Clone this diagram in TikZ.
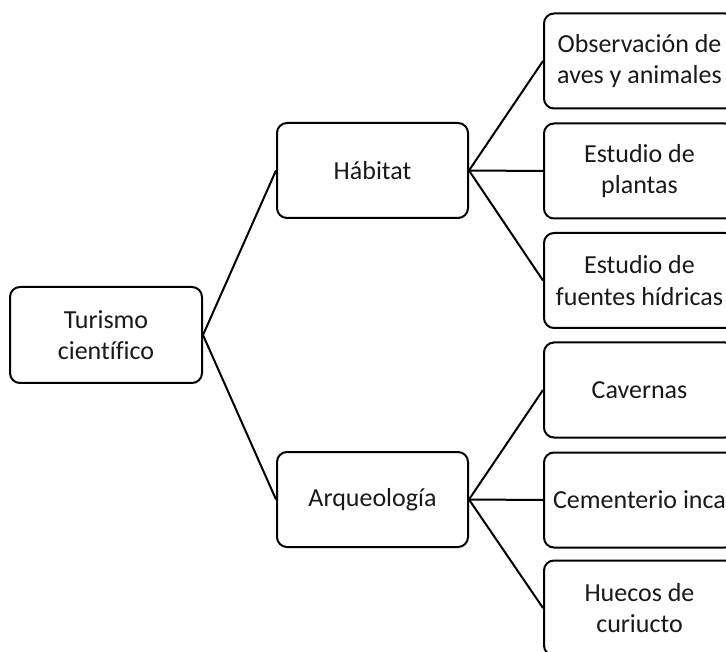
\documentclass[tikz,border=0pt]{standalone}
\usepackage{fontspec}
\setmainfont[Ligatures=NoCommon]{Carlito}
\begin{document}
\begin{tikzpicture}[x=1pt,y=-1pt,
  box/.style={draw=black, line width=2pt, rounded corners=10pt, minimum width=191pt, minimum height=95pt, align=center, inner sep=0pt, font=\fontsize{26}{31.5}\selectfont, text=black!90},
  conn/.style={line width=2pt, draw=black}]
\useasboundingbox (0,0) rectangle (726,652);
\clip (0,0) rectangle (726,652);
\node[box, minimum width=192pt, minimum height=96pt] (T) at (106,335) {Turismo\\científico};
\node[box] (H) at (372.5,170.5) {Hábitat};
\node[box] (A) at (372.5,499.5) {Arqueología};
\node[box] (R1) at (639.5,61) {Observación de\\aves y animales};
\node[box] (R2) at (639.5,171) {Estudio de\\plantas};
\node[box] (R3) at (639.5,280.5) {Estudio de\\fuentes hídricas};
\node[box] (R4) at (639.5,390) {Cavernas};
\node[box] (R5) at (639.5,500) {Cementerio inca};
\node[box] (R6) at (639.5,608) {Huecos de\\curiucto};
\draw[conn] (T.east) -- (H.west);
\draw[conn] (T.east) -- (A.west);
\draw[conn] (H.east) -- (R1.west);
\draw[conn] (H.east) -- (R2.west);
\draw[conn] (H.east) -- (R3.west);
\draw[conn] (A.east) -- (R4.west);
\draw[conn] (A.east) -- (R5.west);
\draw[conn] (A.east) -- (R6.west);
\end{tikzpicture}
\end{document}
